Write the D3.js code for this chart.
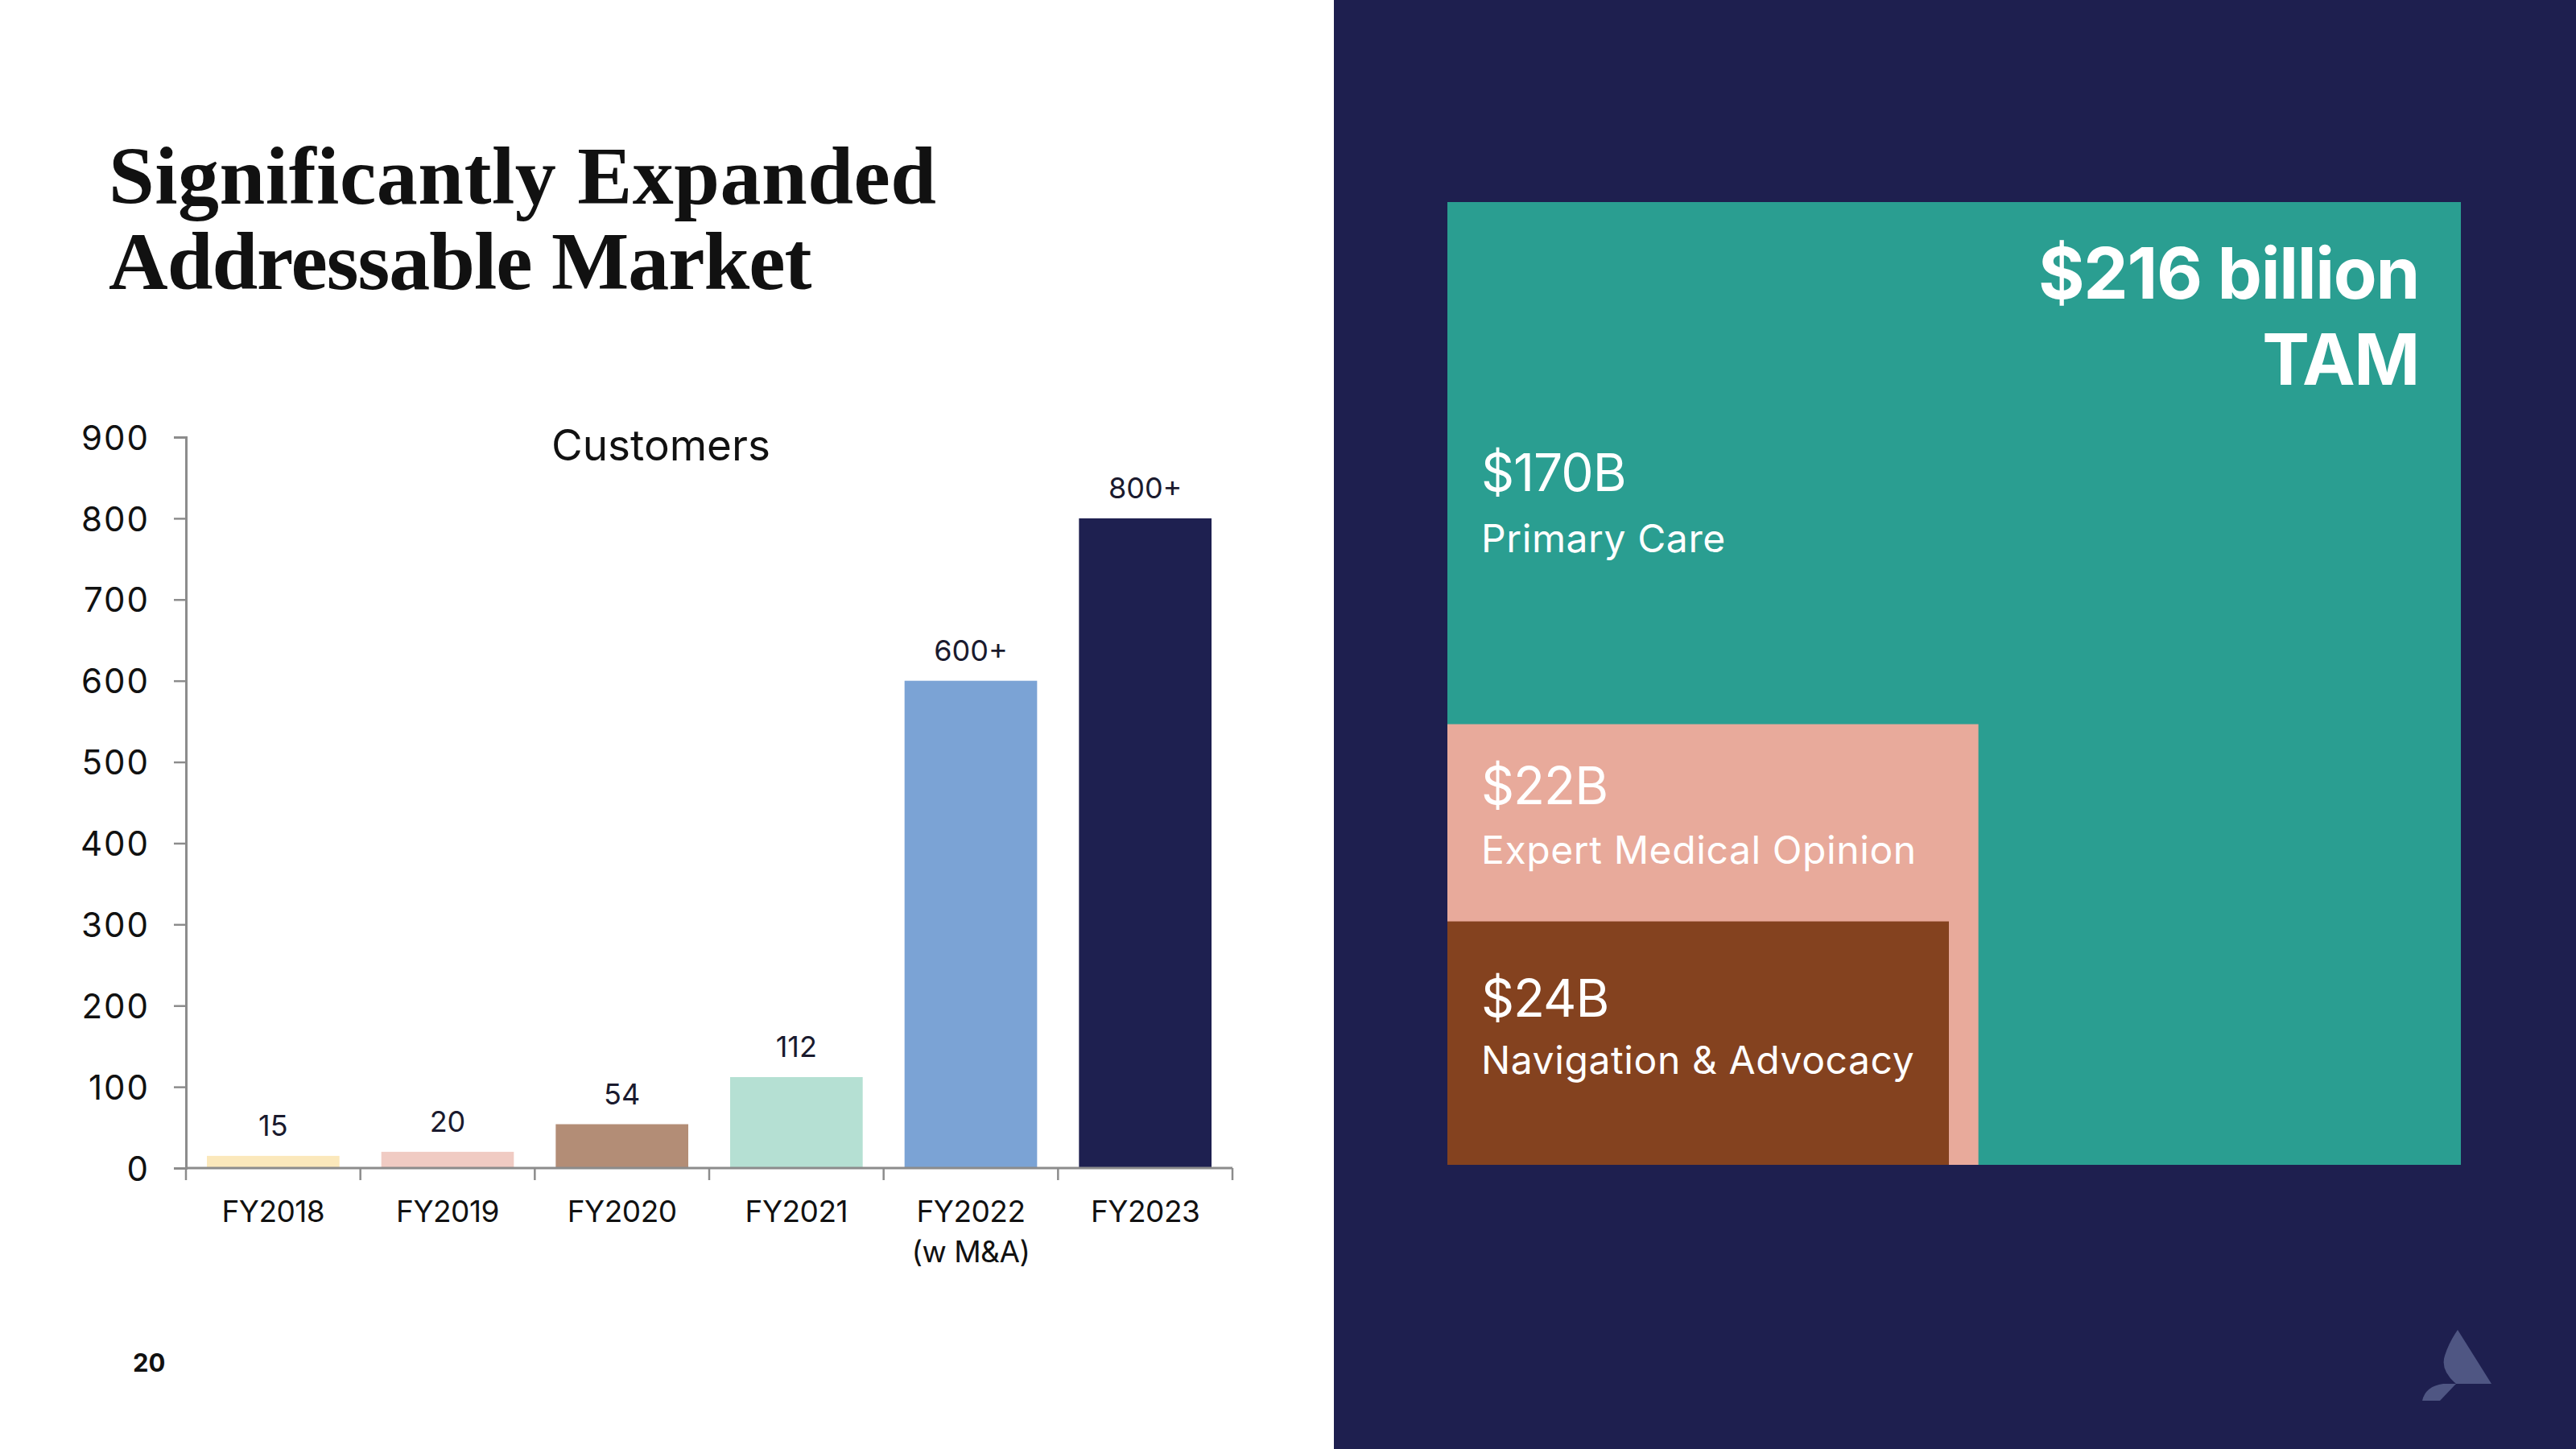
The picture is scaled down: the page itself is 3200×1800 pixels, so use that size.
<!DOCTYPE html>
<html>
<head>
<meta charset="utf-8">
<script src="https://cdn.jsdelivr.net/npm/d3@7"></script>
<style>
  html, body { margin: 0; padding: 0; background: #ffffff; }
  svg { display: block; }
</style>
</head>
<body>
<script>
// ---------- data ----------
const categories = ["FY2018", "FY2019", "FY2020", "FY2021", "FY2022", "FY2023"];
const categoryLines = [["FY2018"], ["FY2019"], ["FY2020"], ["FY2021"], ["FY2022", "(w M&A)"], ["FY2023"]];
const customers = [15, 20, 54, 112, 600, 800];
const valueLabels = ["15", "20", "54", "112", "600+", "800+"];
const barColors = ["#fbe8bb", "#f0cbc3", "#b38d76", "#b5e0d3", "#7ba3d5", "#1e2050"];
const yTicks = [0, 100, 200, 300, 400, 500, 600, 700, 800, 900];

const tamTotal = 216;
const segmentNames = ["Primary Care", "Expert Medical Opinion", "Navigation & Advocacy"];
const segmentValues = [170, 22, 24];
const segmentLabels = ["$170B", "$22B", "$24B"];
const segmentColors = ["#2a9e91", "#e8aa9b", "#84421f"];

// ---------- canvas ----------
const W = 3200, H = 1800;
const svg = d3.select("body").append("svg").attr("width", W).attr("height", H);
const sans = "Inter, 'Noto Sans', sans-serif";

svg.append("rect").attr("x", 0).attr("y", 0).attr("width", 1657).attr("height", H).attr("fill", "#ffffff");
svg.append("rect").attr("x", 1657).attr("y", 0).attr("width", W - 1657).attr("height", H).attr("fill", "#1e1f4f");

// ---------- title ----------
const title = svg.append("text")
  .attr("font-family", "'Liberation Serif', 'Times New Roman', serif")
  .attr("font-weight", 700).attr("font-size", 102).attr("fill", "#111111");
title.append("tspan").attr("x", 135).attr("y", 253).attr("letter-spacing", 0.5).text("Significantly Expanded");
title.append("tspan").attr("x", 135).attr("y", 359).attr("letter-spacing", -1).text("Addressable Market");

// page number
svg.append("text").attr("x", 165).attr("y", 1704)
  .attr("font-family", sans).attr("font-weight", 700).attr("font-size", 31)
  .attr("fill", "#111111").text("20");

// ---------- bar chart ----------
const x0 = 231, x1 = 1531, yBase = 1451, yTop = 543;
const x = d3.scaleBand().domain(categories).range([x0, x1]).paddingInner(0.24).paddingOuter(0.12);
const y = d3.scaleLinear().domain([0, 900]).range([yBase, yTop]);
const axisColor = "#8c8c8c";

const g = svg.append("g");

// y axis
const yAxis = d3.axisLeft(y).tickValues(yTicks).tickSize(15).tickPadding(30).tickFormat(d3.format("d"));
const yg = g.append("g").attr("transform", `translate(${x0},0)`).call(yAxis);
yg.select(".domain").attr("stroke", axisColor).attr("stroke-width", 3);
yg.selectAll(".tick line").attr("stroke", axisColor).attr("stroke-width", 2.5);
yg.selectAll(".tick text").attr("font-family", sans).attr("font-size", 42)
  .attr("fill", "#111111").attr("dy", "0.36em").attr("letter-spacing", 2);

// bars
g.selectAll("rect.bar").data(customers).join("rect")
  .attr("class", "bar")
  .attr("x", (d, i) => x(categories[i]))
  .attr("width", x.bandwidth())
  .attr("y", d => y(d))
  .attr("height", d => yBase - y(d))
  .attr("fill", (d, i) => barColors[i]);

// value labels
g.selectAll("text.val").data(customers).join("text")
  .attr("class", "val")
  .attr("x", (d, i) => x(categories[i]) + x.bandwidth() / 2)
  .attr("y", d => y(d) - 25)
  .attr("text-anchor", "middle")
  .attr("font-family", sans).attr("font-size", 36).attr("fill", "#1a1a2e")
  .text((d, i) => valueLabels[i]);

// x axis
const xAxis = d3.axisBottom(x).tickSize(0).tickFormat("");
const xg = g.append("g").attr("transform", `translate(0,${yBase})`).call(xAxis);
xg.select(".domain").attr("stroke", axisColor).attr("stroke-width", 3).attr("d", `M${x0},0H${x1}`);
xg.selectAll(".tick").remove();
const step = x.step();
const boundaries = categories.map(c => x(c) - step * x.paddingInner() / 2).concat([x1]);
xg.selectAll("line.sep").data(boundaries).join("line")
  .attr("class", "sep")
  .attr("x1", d => d).attr("x2", d => d)
  .attr("y1", 0).attr("y2", 15)
  .attr("stroke", axisColor).attr("stroke-width", 2.5);

// category labels
const cl = g.selectAll("text.cat").data(categoryLines).join("text")
  .attr("class", "cat")
  .attr("text-anchor", "middle")
  .attr("font-family", sans).attr("font-size", 37).attr("fill", "#111111")
  .attr("letter-spacing", -0.5);
cl.each(function (lines, i) {
  const t = d3.select(this);
  const cx = x(categories[i]) + x.bandwidth() / 2;
  lines.forEach((ln, j) => {
    t.append("tspan").attr("x", cx).attr("y", 1518 + j * 50).text(ln);
  });
});

// chart title
g.append("text").attr("x", 821).attr("y", 572).attr("text-anchor", "middle")
  .attr("font-family", sans).attr("font-size", 53).attr("fill", "#111111").text("Customers");

// ---------- TAM panel ----------
const panel = { x: 1798, y: 251, w: 1259, h: 1196 };
const bottom = panel.y + panel.h;
// nested boxes anchored bottom-left, area proportional to the cumulative value they hold
const areaPerUnit = 7850;              // px² per $1B
const area = d3.scaleLinear().domain([0, 1]).range([0, areaPerUnit]);
const aspects = [null, 1.205, 2.06];   // width / height of the nested boxes
const cum = [tamTotal, segmentValues[1] + segmentValues[2], segmentValues[2]];

svg.append("rect").attr("x", panel.x).attr("y", panel.y)
  .attr("width", panel.w).attr("height", panel.h).attr("fill", segmentColors[0]);

const boxes = [1, 2].map(i => {
  const a = area(cum[i]);
  const h = Math.sqrt(a / aspects[i]);
  const w = h * aspects[i];
  return { i, x: panel.x, y: bottom - h, w, h };
});
svg.selectAll("rect.seg").data(boxes).join("rect")
  .attr("class", "seg")
  .attr("x", d => d.x).attr("y", d => d.y)
  .attr("width", d => d.w).attr("height", d => d.h)
  .attr("fill", d => segmentColors[d.i]);

// TAM label
const tam = svg.append("text").attr("text-anchor", "end")
  .attr("font-family", sans).attr("font-weight", 700).attr("font-size", 88).attr("fill", "#ffffff")
  .attr("letter-spacing", -1.3);
tam.append("tspan").attr("x", 3005).attr("y", 371).text(`$${tamTotal} billion`);
tam.append("tspan").attr("x", 3005).attr("y", 478).text("TAM");

// segment labels
const labelTops = [panel.y, boxes[0].y, boxes[1].y];
const valueOffsets = [359, 99, 118];
const nameGaps = [76, 74, 71];
segmentNames.forEach((name, i) => {
  const ty = labelTops[i] + valueOffsets[i];
  svg.append("text").attr("x", 1840).attr("y", ty)
    .attr("font-family", sans).attr("font-size", 64).attr("fill", "#ffffff")
    .attr("letter-spacing", -1).text(segmentLabels[i]);
  svg.append("text").attr("x", 1840).attr("y", ty + nameGaps[i])
    .attr("font-family", sans).attr("font-size", 48).attr("fill", "#ffffff")
    .attr("letter-spacing", 0.6)
    .text(name);
});

// logo mark
svg.append("path")
  .attr("d", "M3053,1652 L3095,1719 L3051,1719 Q3031,1702 3037,1684 Q3042,1668 3053,1652 Z")
  .attr("fill", "#4f5683");
svg.append("path")
  .attr("d", "M3051,1719 L3031,1740 L3009,1740 Q3013,1722 3035,1719 Z")
  .attr("fill", "#4f5683");
</script>
</body>
</html>
